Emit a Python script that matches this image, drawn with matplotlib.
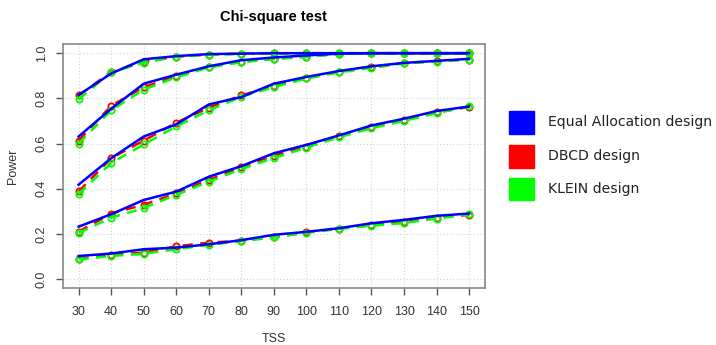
import matplotlib
matplotlib.use("Agg")
import matplotlib.pyplot as plt
import matplotlib.patches as mpatches

# Data.
tss = [30, 40, 50, 60, 70, 80, 90, 100, 110, 120, 130, 140, 150]

equal_power = [
    [0.815, 0.910, 0.973, 0.987, 0.996, 0.998, 1.000, 1.000, 1.000, 1.000, 1.000, 1.000, 1.000],
    [0.631, 0.754, 0.865, 0.905, 0.942, 0.969, 0.981, 0.990, 0.998, 1.000, 1.000, 1.000, 1.000],
    [0.418, 0.535, 0.631, 0.685, 0.773, 0.806, 0.865, 0.895, 0.921, 0.942, 0.957, 0.966, 0.975],
    [0.232, 0.287, 0.350, 0.387, 0.453, 0.500, 0.557, 0.594, 0.636, 0.680, 0.710, 0.744, 0.764],
    [0.102, 0.113, 0.132, 0.139, 0.154, 0.172, 0.196, 0.209, 0.225, 0.247, 0.262, 0.280, 0.290],
]
dbcd_power = [
    [0.813, 0.917, 0.962, 0.985, 0.994, 0.998, 0.999, 1.000, 1.000, 1.000, 1.000, 1.000, 1.000],
    [0.613, 0.767, 0.850, 0.897, 0.940, 0.962, 0.976, 0.985, 0.997, 1.000, 1.000, 1.000, 1.000],
    [0.388, 0.535, 0.613, 0.692, 0.759, 0.813, 0.855, 0.890, 0.918, 0.937, 0.957, 0.964, 0.972],
    [0.210, 0.290, 0.329, 0.379, 0.439, 0.495, 0.547, 0.585, 0.632, 0.672, 0.705, 0.738, 0.762],
    [0.090, 0.107, 0.117, 0.145, 0.161, 0.170, 0.186, 0.207, 0.223, 0.240, 0.252, 0.272, 0.284],
]
klein_power = [
    [0.796, 0.915, 0.958, 0.984, 0.993, 0.997, 0.999, 1.000, 1.000, 1.000, 1.000, 1.000, 1.000],
    [0.600, 0.747, 0.839, 0.893, 0.937, 0.960, 0.974, 0.984, 0.996, 1.000, 1.000, 1.000, 1.000],
    [0.376, 0.514, 0.596, 0.676, 0.747, 0.807, 0.850, 0.888, 0.915, 0.935, 0.955, 0.963, 0.972],
    [0.204, 0.272, 0.314, 0.373, 0.431, 0.487, 0.536, 0.582, 0.628, 0.668, 0.700, 0.735, 0.765],
    [0.087, 0.102, 0.112, 0.132, 0.151, 0.168, 0.184, 0.205, 0.222, 0.236, 0.248, 0.268, 0.287],
]

design_names = ["Equal Allocation design", "DBCD design", "KLEIN design"]
design_colors = ["#0000ff", "#ff0000", "#00ff00"]

y_ticks = [0.0, 0.2, 0.4, 0.6, 0.8, 1.0]

plt.rcParams['font.family'] = ['Liberation Sans', 'DejaVu Sans']

fig = plt.figure(figsize=(7.16, 3.45), dpi=100)
ax = fig.add_axes([0.088, 0.165, 0.589, 0.707])

for curve in dbcd_power:
    ax.plot(tss, curve, color=design_colors[1], lw=1.8, ls=(0, (4, 3)),
            marker='o', mfc='none', mec=design_colors[1], ms=4.5, mew=1.3)
for curve in klein_power:
    ax.plot(tss, curve, color=design_colors[2], lw=1.8, ls=(0, (4, 3)),
            marker='o', mfc='none', mec=design_colors[2], ms=4.5, mew=1.3)
for curve in equal_power:
    ax.plot(tss, curve, color=design_colors[0], lw=1.8)

ax.set_xlim(25.2, 154.8)
ax.set_ylim(-0.04, 1.04)
ax.set_xticks(tss)
ax.set_yticks(y_ticks)
ax.set_yticklabels(["%.1f" % v for v in y_ticks], rotation=90, va='center')
ax.grid(True, color='#d3d3d3', ls=(0, (1, 2)), lw=0.8)
ax.set_axisbelow(True)

for spine in ax.spines.values():
    spine.set_color('#888888')
    spine.set_linewidth(1.2)
ax.tick_params(direction='out', length=5, width=1, color='#555555',
               labelsize=9, labelcolor='#333333')
ax.tick_params(axis='x', pad=8)
ax.tick_params(axis='y', pad=6)

ax.set_xlabel("TSS", fontsize=9, color='#333333', labelpad=11)
ax.set_ylabel("Power", fontsize=9, color='#333333', labelpad=12)
ax.set_title("Chi-square test", fontsize=10.5, fontweight='bold', pad=17)

# legend drawn by hand: coloured squares + labels, in figure coordinates
leg_x = 0.711
leg_w = 0.035
leg_h = 0.066
leg_centers = [0.645, 0.547, 0.452]
for name, color, yc in zip(design_names, design_colors, leg_centers):
    fig.patches.append(mpatches.Rectangle((leg_x, yc - leg_h / 2), leg_w, leg_h,
                                          transform=fig.transFigure, color=color))
    fig.text(0.765, yc, name, va='center', ha='left', fontsize=10.1,
             family='DejaVu Sans', color='#222222')

fig.savefig("out.png", dpi=100)
